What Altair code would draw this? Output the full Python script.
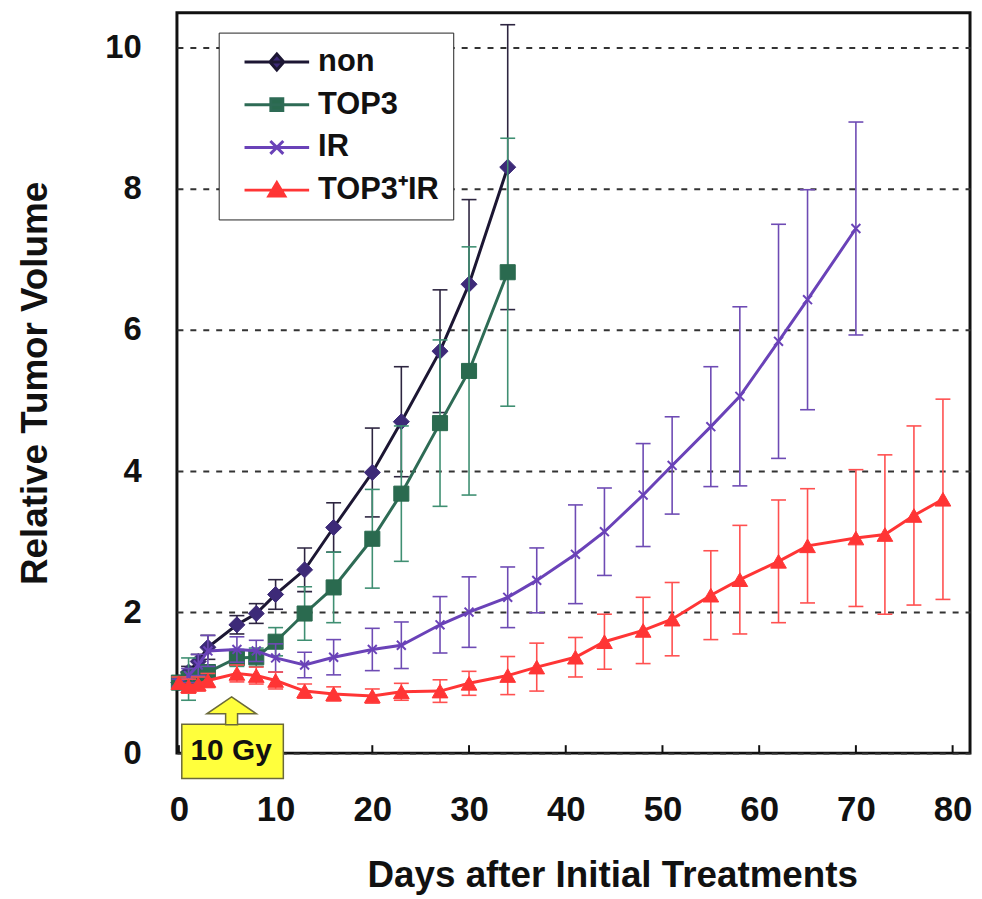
import altair as alt
import pandas as pd

# ---------------- data ----------------
series_names = ["non", "TOP3", "IR", "TOP3\u207aIR"]

non_days = [0, 1, 2, 3, 6, 8, 10, 13, 16, 20, 23, 27, 30, 34]
non_vals = [1.0, 1.15, 1.3, 1.5, 1.82, 1.98, 2.25, 2.6, 3.2, 3.98, 4.7, 5.7, 6.65, 8.31]
non_err = [0.05, 0.08, 0.1, 0.17, 0.13, 0.14, 0.21, 0.31, 0.35, 0.63, 0.78, 0.87, 1.2, 2.02]

top3_days = [0, 1, 2, 3, 6, 8, 10, 13, 16, 20, 23, 27, 30, 34]
top3_vals = [1.0, 1.05, 1.1, 1.15, 1.35, 1.36, 1.58, 1.98, 2.35, 3.04, 3.68, 4.68, 5.42, 6.82]
top3_err = [0.05, 0.3, 0.08, 0.1, 0.12, 0.13, 0.2, 0.38, 0.5, 0.7, 0.96, 1.18, 1.76, 1.9]

ir_days = [0, 1, 2, 3, 6, 8, 10, 13, 16, 20, 23, 27, 30, 34, 37, 41, 44, 48, 51, 55, 58, 62, 65, 70]
ir_vals = [1.0, 1.1, 1.25, 1.45, 1.47, 1.45, 1.35, 1.25, 1.36, 1.47, 1.53, 1.82, 2.0, 2.21, 2.45,
           2.82, 3.14, 3.66, 4.08, 4.63, 5.06, 5.84, 6.43, 7.44]
ir_err = [0.05, 0.1, 0.15, 0.22, 0.18, 0.15, 0.2, 0.18, 0.25, 0.3, 0.33, 0.4, 0.5, 0.43, 0.46,
          0.7, 0.62, 0.73, 0.69, 0.85, 1.27, 1.66, 1.56, 1.51]

comb_days = [0, 1, 2, 3, 6, 8, 10, 13, 16, 20, 23, 27, 30, 34, 37, 41, 44, 48, 51, 55, 58, 62,
             65, 70, 73, 76, 79]
comb_vals = [1.0, 0.95, 0.98, 1.03, 1.13, 1.1, 1.03, 0.88, 0.84, 0.81, 0.87, 0.88, 0.99, 1.1, 1.22,
             1.36, 1.58, 1.74, 1.9, 2.24, 2.46, 2.72, 2.94, 3.05, 3.1, 3.37, 3.6]
comb_err = [0.08, 0.1, 0.1, 0.1, 0.12, 0.12, 0.12, 0.1, 0.1, 0.1, 0.12, 0.16, 0.17, 0.27, 0.34,
            0.28, 0.39, 0.47, 0.52, 0.63, 0.77, 0.87, 0.81, 0.97, 1.13, 1.27, 1.42]

x_ticks = [0, 10, 20, 30, 40, 50, 60, 70, 80]
y_ticks = [0, 2, 4, 6, 8, 10]

# annotation ("10 Gy" irradiation marker)
anno_label = ["10 Gy"]
anno_box_x = [0.3]
anno_box_x2 = [10.8]
anno_box_y = [-0.36]
anno_box_y2 = [0.41]
anno_arrow_x = [5.45]
anno_arrow_y = [0.6]
anno_text_x = [5.4]
anno_text_y = [0.03]

# ---------------- styling ----------------
FONT = "Liberation Sans"
line_colors = ["#1c1633", "#2e6b55", "#6a42b8", "#ff3535"]
fill_colors = ["#3d2a78", "#2a6a4f", "#6a42b8", "#ff3535"]
err_colors = ["#2d2540", "#3f8f72", "#6e4bb4", "#ff5050"]

X_PATH = "M-1,-1L1,1M-1,1L1,-1"
legend_paths = [
    "M-0.35,0H6.15M2.9,-0.8L3.6,0L2.9,0.8L2.2,0Z",
    "M-0.35,0H6.15M2.3,-0.6H3.5V0.6H2.3Z",
    "M-0.35,0H6.15M2.25,-0.65L3.55,0.65M2.25,0.65L3.55,-0.65",
    "M-0.35,0H6.15M2.9,-0.75L3.7,0.6L2.1,0.6Z",
]

xscale = alt.Scale(domain=[-0.2, 81.8], nice=False, zero=False)
yscale = alt.Scale(domain=[0, 10.5], nice=False, zero=False)

x_axis = alt.Axis(
    values=x_ticks, format="d", labelFontSize=35, labelFont=FONT, labelFontWeight="bold",
    labelColor="#111", labelPadding=40, ticks=False, domain=False, grid=False,
    title="Days after Initial Treatments", titleFontSize=37, titleFont=FONT,
    titleFontWeight="bold", titleColor="#111", titlePadding=30, titleX=438,
    titleAlign="center",
)
y_axis = alt.Axis(
    values=y_ticks, format="d", labelFontSize=33, labelFont=FONT, labelFontWeight="bold",
    labelColor="#111", labelPadding=36, ticks=False, domain=False, grid=True,
    gridDash=[6, 7], gridColor="#333", gridWidth=2,
    title="Relative Tumor Volume", titleFontSize=37, titleFont=FONT,
    titleFontWeight="bold", titleColor="#111", titleX=-142, titleBaseline="middle",
)


def series_layers(days, vals, errs, idx, shape, size, filled):
    df = pd.DataFrame({
        "day": days,
        "val": vals,
        "lo": [v - e for v, e in zip(vals, errs)],
        "hi": [v + e for v, e in zip(vals, errs)],
    })
    base = alt.Chart(df)
    x = alt.X("day:Q", scale=xscale, axis=x_axis)
    rule = base.mark_rule(color=err_colors[idx], strokeWidth=1.6).encode(
        x=x, y=alt.Y("lo:Q", scale=yscale, axis=y_axis), y2="hi:Q")
    cap_lo = base.mark_tick(orient="horizontal", color=err_colors[idx], thickness=1.6,
                            size=15, opacity=1).encode(x=x, y=alt.Y("lo:Q", scale=yscale))
    cap_hi = base.mark_tick(orient="horizontal", color=err_colors[idx], thickness=1.6,
                            size=15, opacity=1).encode(x=x, y=alt.Y("hi:Q", scale=yscale))
    line = base.mark_line(color=line_colors[idx], strokeWidth=3).encode(
        x=x, y=alt.Y("val:Q", scale=yscale))
    if filled:
        pts = base.mark_point(shape=shape, size=size, filled=True, fill=fill_colors[idx],
                              stroke=fill_colors[idx], strokeWidth=1, opacity=1)
    else:
        pts = base.mark_point(shape=shape, size=size, filled=False, color=fill_colors[idx],
                              strokeWidth=2, opacity=1)
    pts = pts.encode(x=x, y=alt.Y("val:Q", scale=yscale))
    return [rule, cap_lo, cap_hi, line, pts]


layers = []
layers += series_layers(non_days, non_vals, non_err, 0, "diamond", 260, True)
layers += series_layers(top3_days, top3_vals, top3_err, 1, "square", 230, True)
layers += series_layers(ir_days, ir_vals, ir_err, 2, X_PATH, 80, False)
layers += series_layers(comb_days, comb_vals, comb_err, 3, "triangle-up", 250, True)

# inward x-axis tick marks
tick_df = pd.DataFrame({"t": x_ticks})
ticks = alt.Chart(tick_df).mark_rule(color="#111", strokeWidth=2).encode(
    x=alt.X("t:Q", scale=xscale), y=alt.value(745), y2=alt.value(737))

# 10 Gy annotation
anno_df = pd.DataFrame({
    "label": anno_label, "bx": anno_box_x, "bx2": anno_box_x2, "by": anno_box_y,
    "by2": anno_box_y2, "ax": anno_arrow_x, "ay": anno_arrow_y, "tx": anno_text_x,
    "ty": anno_text_y,
})
ARROW = "M0,-0.56L1,0.12L0.24,0.12L0.24,0.56L-0.24,0.56L-0.24,0.12L-1,0.12Z"
anno_box = alt.Chart(anno_df).mark_rect(fill="#ffff3c", stroke="#6b6a3a", strokeWidth=1.5).encode(
    x=alt.X("bx:Q", scale=xscale), x2="bx2:Q", y=alt.Y("by:Q", scale=yscale), y2="by2:Q")
anno_arrow = alt.Chart(anno_df).mark_point(shape=ARROW, size=2500, filled=True, fill="#ffff3c",
                                           stroke="#6b6a3a", strokeWidth=1.5, opacity=1).encode(
    x=alt.X("ax:Q", scale=xscale), y=alt.Y("ay:Q", scale=yscale))
anno_text = alt.Chart(anno_df).mark_text(font=FONT, fontSize=30, fontWeight="bold",
                                         color="#111", align="center", baseline="middle").encode(
    x=alt.X("tx:Q", scale=xscale), y=alt.Y("ty:Q", scale=yscale), text="label:N")

# legend (drawn from the series scales; layer has no visible marks)
leg = alt.Legend(
    title=None, orient="none", legendX=42, legendY=20, direction="vertical",
    labelFont=FONT, labelFontSize=31, labelFontWeight="bold", labelColor="#111",
    labelOffset=55, labelLimit=400, rowPadding=11, padding=14, symbolSize=400,
    symbolStrokeWidth=3, fillColor="white", strokeColor="#222",
)
legend_df = pd.DataFrame({"series": series_names})
legend_layer = alt.Chart(legend_df).transform_filter("false").mark_point(
    filled=False, opacity=1, strokeWidth=3).encode(
    color=alt.Color("series:N", scale=alt.Scale(domain=series_names, range=line_colors), legend=leg),
    fill=alt.Fill("series:N", scale=alt.Scale(domain=series_names, range=fill_colors), legend=leg),
    shape=alt.Shape("series:N", scale=alt.Scale(domain=series_names, range=legend_paths), legend=leg),
)

chart = alt.layer(*layers, ticks, anno_box, anno_arrow, anno_text, legend_layer).properties(
    width=798, height=745, background="white",
    autosize=alt.AutoSizeParams(type="none"),
    padding={"left": 170, "top": 2, "right": 4, "bottom": 142},
).configure_view(stroke="#111", strokeWidth=3)

chart.save("out.html", embed_options={"renderer": "svg", "actions": False})
